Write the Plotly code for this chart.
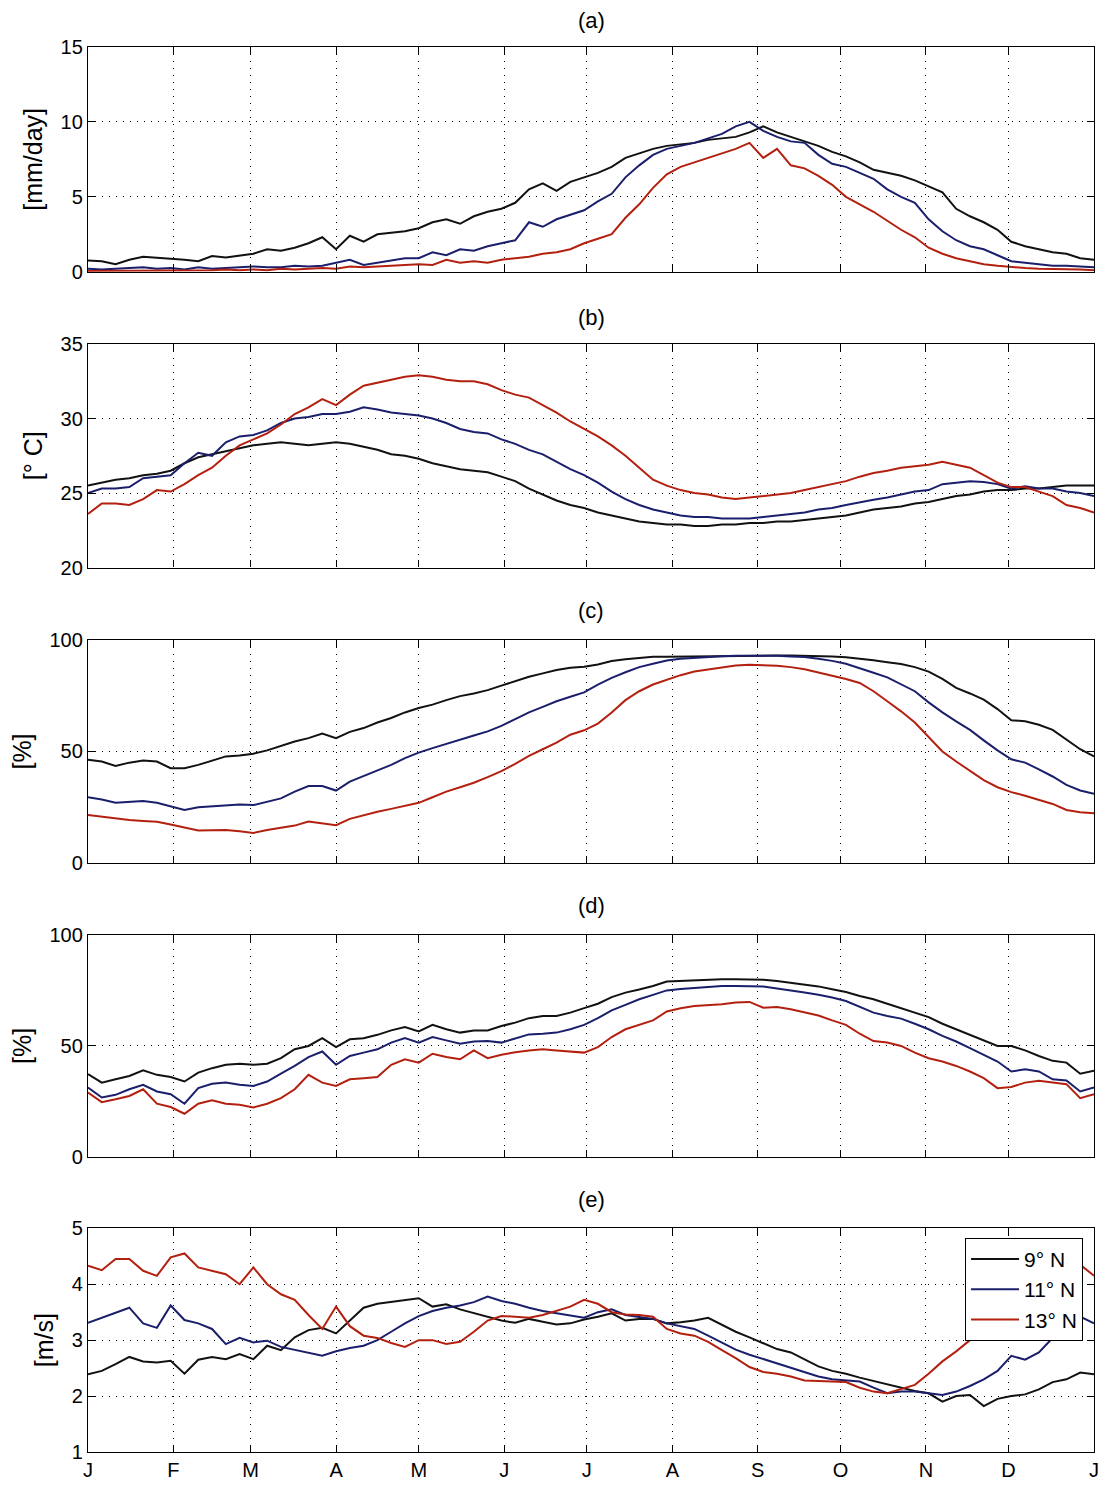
import plotly.graph_objects as go

# ---------------- data (5-day steps) ----------------
days = list(range(0, 366, 5))
month_ticks = [0, 31, 59, 90, 120, 151, 181, 212, 243, 273, 304, 334, 365]
month_labels = ["J", "F", "M", "A", "M", "J", "J", "A", "S", "O", "N", "D", "J"]
series_names = ["9° N", "11° N", "13° N"]
panel_titles = ["(a)", "(b)", "(c)", "(d)", "(e)"]
ylabels = ["[mm/day]", "[° C]", "[%]", "[%]", "[m/s]"]

# (a) precipitation [mm/day]
a_9 = [0.75, 0.7, 0.5, 0.8, 1.0, 0.95, 0.9, 0.8, 0.7, 1.05,
       0.95, 1.1, 1.2, 1.5, 1.4, 1.6, 1.9, 2.3, 1.5, 2.4,
       2.0, 2.5, 2.6, 2.7, 2.9, 3.3, 3.5, 3.2, 3.7, 4.0,
       4.2, 4.6, 5.5, 5.9, 5.4, 6.0, 6.3, 6.6, 7.0, 7.6,
       7.9, 8.2, 8.4, 8.5, 8.6, 8.8, 8.9, 9.0, 9.3, 9.7,
       9.3, 9.0, 8.7, 8.4, 8.0, 7.7, 7.3, 6.8, 6.6, 6.4,
       6.1, 5.7, 5.3, 4.2, 3.7, 3.3, 2.8, 2.0, 1.7, 1.5,
       1.3, 1.2, 0.9, 0.8]
a_11 = [0.2, 0.15, 0.2, 0.25, 0.3, 0.2, 0.25, 0.15, 0.3, 0.2,
        0.25, 0.3, 0.35, 0.3, 0.3, 0.4, 0.35, 0.4, 0.6, 0.8,
        0.45, 0.6, 0.8, 0.9, 0.9, 1.3, 1.1, 1.5, 1.4, 1.7,
        1.9, 2.1, 3.3, 3.0, 3.5, 3.8, 4.1, 4.7, 5.2, 6.3,
        7.1, 7.8, 8.2, 8.4, 8.6, 8.9, 9.2, 9.7, 10.0, 9.4,
        9.0, 8.7, 8.6, 7.8, 7.2, 7.0, 6.6, 6.2, 5.5, 5.0,
        4.6, 3.5, 2.7, 2.1, 1.7, 1.5, 1.1, 0.7, 0.6, 0.5,
        0.4, 0.4, 0.35, 0.3]
a_13 = [0.05, 0.05, 0.1, 0.05, 0.1, 0.05, 0.1, 0.05, 0.1, 0.1,
        0.15, 0.1, 0.15, 0.1, 0.2, 0.15, 0.2, 0.25, 0.2, 0.35,
        0.3, 0.35, 0.4, 0.45, 0.5, 0.45, 0.8, 0.6, 0.7, 0.6,
        0.8, 0.9, 1.0, 1.2, 1.3, 1.5, 1.9, 2.2, 2.5, 3.6,
        4.5, 5.6, 6.5, 7.0, 7.3, 7.6, 7.9, 8.2, 8.6, 7.6,
        8.2, 7.1, 6.9, 6.4, 5.8, 5.0, 4.5, 4.0, 3.4, 2.8,
        2.3, 1.6, 1.2, 0.9, 0.7, 0.5, 0.4, 0.3, 0.25, 0.2,
        0.2, 0.15, 0.15, 0.1]

# (b) temperature [deg C]
b_9 = [25.5, 25.7, 25.9, 26.0, 26.2, 26.3, 26.5, 27.0, 27.4, 27.6,
       27.8, 28.0, 28.2, 28.3, 28.4, 28.3, 28.2, 28.3, 28.4, 28.3,
       28.1, 27.9, 27.6, 27.5, 27.3, 27.0, 26.8, 26.6, 26.5, 26.4,
       26.1, 25.8, 25.3, 24.9, 24.5, 24.2, 24.0, 23.7, 23.5, 23.3,
       23.1, 23.0, 22.9, 22.9, 22.8, 22.8, 22.9, 22.9, 23.0, 23.0,
       23.1, 23.1, 23.2, 23.3, 23.4, 23.5, 23.7, 23.9, 24.0, 24.1,
       24.3, 24.4, 24.6, 24.8, 24.9, 25.1, 25.2, 25.2, 25.3, 25.3,
       25.4, 25.5, 25.5, 25.5]
b_11 = [25.0, 25.3, 25.3, 25.4, 26.0, 26.1, 26.2, 27.0, 27.7, 27.5,
        28.4, 28.8, 28.9, 29.2, 29.7, 30.0, 30.1, 30.3, 30.3, 30.45,
        30.75, 30.6, 30.4, 30.3, 30.2, 30.0, 29.7, 29.3, 29.1, 29.0,
        28.6, 28.3, 27.9, 27.6, 27.1, 26.6, 26.2, 25.7, 25.1, 24.6,
        24.2, 23.9, 23.7, 23.5, 23.4, 23.4, 23.3, 23.3, 23.3, 23.4,
        23.5, 23.6, 23.7, 23.9, 24.0, 24.2, 24.4, 24.55, 24.7, 24.9,
        25.1, 25.2, 25.6, 25.7, 25.8, 25.75, 25.6, 25.3, 25.45, 25.3,
        25.3, 25.1, 25.0, 24.8]
b_13 = [23.6, 24.3, 24.3, 24.2, 24.6, 25.2, 25.1, 25.6, 26.2, 26.7,
        27.5, 28.2, 28.6, 29.0, 29.6, 30.3, 30.75, 31.3, 30.9, 31.6,
        32.2, 32.4, 32.6, 32.8, 32.9, 32.8, 32.6, 32.5, 32.5, 32.3,
        31.9, 31.6, 31.4, 30.9, 30.4, 29.8, 29.3, 28.8, 28.2, 27.5,
        26.7, 25.9, 25.5, 25.2, 25.0, 24.9, 24.7, 24.6, 24.7, 24.8,
        24.9, 25.0, 25.2, 25.4, 25.6, 25.8, 26.1, 26.35, 26.5, 26.7,
        26.8, 26.9, 27.1, 26.9, 26.7, 26.2, 25.7, 25.4, 25.4, 25.1,
        24.8, 24.2, 24.0, 23.7]

# (c) relative humidity [%]
c_9 = [46.3, 45.5, 43.5, 45.0, 46.0, 45.5, 42.5, 42.5, 44.0, 46.0,
       47.8, 48.2, 49.0, 50.5, 52.5, 54.5, 56.0, 58.0, 56.0, 58.8,
       60.5, 63.0, 65.0, 67.5, 69.5, 71.0, 73.0, 74.8, 76.0, 77.5,
       79.5, 81.5, 83.5, 85.0, 86.5, 87.5, 88.0, 89.0, 90.5, 91.3,
       92.0, 92.4, 92.5, 92.6, 92.7, 92.8, 92.8, 92.9, 93.0, 93.0,
       93.0, 93.0, 92.9, 92.8, 92.6, 92.2, 91.6, 90.9, 90.0, 89.2,
       87.8, 85.8, 82.5, 78.5, 76.0, 73.2, 69.0, 64.0, 63.5, 62.0,
       59.7, 55.5, 51.0, 47.8]
c_11 = [29.5, 28.5, 27.0, 27.5, 27.8, 27.0, 25.5, 23.8, 25.0, 25.5,
        26.0, 26.2, 26.0, 27.5, 29.0, 32.0, 34.5, 34.5, 32.5, 36.5,
        39.0, 41.5, 44.0, 47.0, 49.5, 51.5, 53.5, 55.5, 57.2, 59.0,
        61.5, 64.5, 67.5, 70.0, 72.5, 74.5, 76.5, 80.0, 83.0, 85.5,
        87.8, 89.3, 90.8, 91.5, 92.0, 92.4, 92.7, 92.9, 93.0, 93.0,
        92.9, 92.6, 92.3, 91.5, 90.6, 89.3, 87.4, 85.3, 83.2, 80.2,
        77.0, 72.0, 67.5, 63.5, 59.7, 55.0, 50.5, 46.5, 45.0, 42.0,
        38.8, 35.0, 32.5, 31.0]
c_13 = [21.6, 20.8, 19.8, 19.3, 18.9, 18.5, 17.3, 15.8, 14.6, 14.7,
        14.8, 14.3, 13.5, 14.8, 15.8, 16.8, 18.6, 17.8, 17.0, 19.8,
        21.5, 23.0, 24.3, 25.8, 27.0, 29.5, 32.0, 34.0, 36.0, 38.5,
        41.2, 44.5, 48.0, 51.0, 54.0, 57.5, 59.5, 62.5, 67.5, 73.0,
        77.0, 80.0, 82.2, 84.2, 85.8, 86.8, 87.8, 88.5, 88.9, 88.8,
        88.4, 87.8, 86.8, 85.4, 84.0, 82.5, 80.7, 77.0, 72.5, 68.0,
        63.0, 56.5, 50.0, 45.5, 41.5, 37.2, 34.0, 31.8, 30.2, 28.3,
        26.5, 23.8, 22.8, 22.3]

# (d) [%]
d_9 = [37.3, 33.5, 35.0, 36.5, 39.0, 37.0, 36.0, 34.0, 38.0, 40.0,
       41.5, 42.0, 41.5, 42.0, 44.5, 48.5, 50.0, 53.5, 49.5, 53.0,
       53.5, 55.0, 57.0, 58.5, 56.5, 59.5, 57.5, 56.0, 57.0, 57.0,
       59.0, 60.5, 62.5, 63.5, 63.5, 65.0, 67.0, 69.0, 72.0, 74.0,
       75.4, 77.0, 79.0, 79.3, 79.5, 79.7, 80.0, 80.0, 80.0, 79.8,
       79.2, 78.5, 77.5, 76.8, 75.5, 74.3, 72.5, 71.0, 69.0, 67.0,
       65.0, 63.0, 60.0, 57.5, 55.0, 52.5, 50.0, 50.0, 48.0, 45.5,
       43.3, 42.5, 37.5, 38.8]
d_11 = [31.3, 26.8, 28.0, 30.5, 32.5, 29.5, 28.3, 24.0, 31.0, 33.0,
        33.5, 32.5, 32.0, 34.0, 37.5, 41.0, 45.0, 47.5, 41.5, 45.5,
        47.0, 48.5, 51.5, 53.5, 51.5, 54.0, 52.5, 51.0, 52.0, 52.2,
        51.5, 53.5, 55.2, 55.5, 56.0, 57.5, 59.5, 62.5, 66.0, 68.5,
        71.0, 73.0, 75.0, 75.6, 76.0, 76.5, 77.0, 77.0, 77.0, 76.8,
        75.8, 75.0, 74.0, 73.0, 71.8, 70.2, 67.5, 65.0, 63.5, 62.3,
        60.0, 57.5, 54.5, 52.0, 49.0, 46.0, 43.0, 38.5, 39.5, 38.5,
        35.0, 34.5, 29.5, 31.3]
d_13 = [29.0, 24.7, 26.0, 27.5, 30.5, 24.0, 22.5, 19.5, 24.0, 25.5,
        24.0, 23.5, 22.3, 24.0, 26.5, 30.5, 37.0, 33.5, 32.0, 35.0,
        35.5, 36.0, 41.5, 44.0, 42.5, 46.5, 45.0, 44.0, 48.0, 44.5,
        46.0, 47.2, 48.0, 48.5, 48.0, 47.5, 47.0, 49.5, 54.0, 57.5,
        59.5, 61.5, 65.5, 67.0, 68.0, 68.3, 68.8, 69.5, 69.8, 67.2,
        67.5, 66.5, 65.0, 63.7, 61.5, 59.5, 55.5, 52.2, 51.5, 50.0,
        47.0, 44.5, 43.0, 41.0, 38.5, 35.5, 31.0, 31.5, 33.5, 34.3,
        33.5, 32.8, 26.5, 28.3]

# (e) wind speed [m/s]
e_9 = [2.39, 2.45, 2.57, 2.7, 2.62, 2.6, 2.63, 2.4, 2.65, 2.7,
       2.66, 2.75, 2.66, 2.9, 2.82, 3.05, 3.18, 3.22, 3.12, 3.35,
       3.58, 3.65, 3.68, 3.72, 3.75, 3.6, 3.64, 3.55, 3.48, 3.42,
       3.35, 3.31, 3.38, 3.33, 3.28, 3.3, 3.37, 3.42, 3.48, 3.35,
       3.38, 3.38, 3.3, 3.32, 3.35, 3.4, 3.28, 3.15, 3.05, 2.95,
       2.84, 2.78, 2.65, 2.53, 2.45, 2.4, 2.33, 2.27, 2.2, 2.15,
       2.09, 2.05, 1.9, 2.0, 2.02, 1.82, 1.95, 2.0, 2.03, 2.12,
       2.25, 2.3, 2.42, 2.39]
e_11 = [3.31, 3.4, 3.5, 3.58, 3.3, 3.22, 3.62, 3.36, 3.3, 3.2,
        2.93, 3.04, 2.96, 2.99, 2.88, 2.83, 2.78, 2.72, 2.8, 2.86,
        2.9, 3.0, 3.15, 3.3, 3.43, 3.52, 3.58, 3.62, 3.68, 3.78,
        3.7, 3.65, 3.58, 3.52, 3.48, 3.44, 3.4, 3.5, 3.55, 3.45,
        3.42, 3.38, 3.3, 3.25, 3.2, 3.08, 2.95, 2.83, 2.74, 2.66,
        2.58, 2.5, 2.42, 2.35, 2.3, 2.28, 2.26, 2.15, 2.05, 2.08,
        2.08, 2.05, 2.02, 2.08, 2.18, 2.3, 2.45, 2.72, 2.65, 2.78,
        3.05, 3.3, 3.42, 3.3]
e_13 = [4.33, 4.25, 4.45, 4.45, 4.24, 4.15, 4.48, 4.55, 4.3, 4.24,
        4.18, 4.0, 4.3, 4.0, 3.82, 3.72, 3.45, 3.2, 3.6, 3.25,
        3.08, 3.04, 2.95, 2.88, 3.0, 3.0, 2.93, 2.97, 3.15, 3.35,
        3.43, 3.42, 3.4, 3.45, 3.52, 3.6, 3.72, 3.65, 3.5, 3.46,
        3.45, 3.42, 3.2, 3.12, 3.08, 2.97, 2.82, 2.68, 2.52, 2.43,
        2.4, 2.35, 2.28, 2.27, 2.27, 2.25, 2.15, 2.08, 2.05, 2.12,
        2.2, 2.4, 2.62, 2.8, 3.0, 3.15, 3.3, 3.5, 3.7, 3.9,
        4.05, 4.2, 4.35, 4.15]

y_ranges = [[0, 15], [20, 35], [0, 100], [0, 100], [1, 5]]
y_ticks = [[0, 5, 10, 15], [20, 25, 30, 35], [0, 50, 100], [0, 50, 100], [1, 2, 3, 4, 5]]

# ---------------- figure ----------------
W, H = 1105, 1487
ML, MR, MT, MB = 88, 6, 47, 30
colors = ["#111111", "#1b1f6b", "#b3200f"]
FONT = "Liberation Sans, Arial, Helvetica, sans-serif"

panels = [(a_9, a_11, a_13), (b_9, b_11, b_13), (c_9, c_11, c_13),
          (d_9, d_11, d_13), (e_9, e_11, e_13)]

# panel pixel extents (top, bottom) and title centres
panel_px = [(47, 272.5), (345, 569.5), (642, 866), (938, 1161), (1232.5, 1457)]
title_px = [20, 318, 613, 909, 1204]


def py(p):
    return (H - MB - p) / (H - MB - MT)


fig = go.Figure()
for i, trio in enumerate(panels, start=1):
    xa = "x" if i == 1 else f"x{i}"
    ya = "y" if i == 1 else f"y{i}"
    for name, ys, col in zip(series_names, trio, colors):
        fig.add_trace(go.Scatter(
            x=days, y=ys, mode="lines", name=name,
            line=dict(color=col, width=2),
            showlegend=(i == 5), xaxis=xa, yaxis=ya,
        ))

layout = dict(
    width=W, height=H,
    margin=dict(l=ML, r=MR, t=MT, b=MB),
    paper_bgcolor="white", plot_bgcolor="white",
    font=dict(family=FONT, size=20, color="black"),
    legend=dict(
        x=(1088 - ML) / (W - ML - MR), xanchor="right",
        y=py(1242), yanchor="top",
        bgcolor="white", bordercolor="black", borderwidth=1,
        font=dict(size=21, family=FONT, color="black"),
        tracegroupgap=0, itemwidth=48,
    ),
    annotations=[],
)

for i in range(1, 6):
    top, bot = panel_px[i - 1]
    xkey = "xaxis" if i == 1 else f"xaxis{i}"
    ykey = "yaxis" if i == 1 else f"yaxis{i}"
    yanchor = "y" if i == 1 else f"y{i}"
    xanchor = "x" if i == 1 else f"x{i}"
    layout[xkey] = dict(
        domain=[0, 1], anchor=yanchor, range=[0, 365],
        tickmode="array", tickvals=month_ticks, ticktext=month_labels,
        showticklabels=(i == 5), ticks="inside", ticklen=7, tickwidth=1,
        tickcolor="black", showline=True, linecolor="black", linewidth=1.3,
        mirror="ticks", showgrid=True, gridcolor="black", gridwidth=1,
        griddash="1px,6px", zeroline=False,
        tickfont=dict(size=20, family=FONT, color="black"),
    )
    layout[ykey] = dict(
        domain=[py(bot), py(top)], anchor=xanchor, range=y_ranges[i - 1],
        tickmode="array", tickvals=y_ticks[i - 1],
        ticks="inside", ticklen=7, tickwidth=1, tickcolor="black",
        showline=True, linecolor="black", linewidth=1.3, mirror="ticks",
        showgrid=True, gridcolor="black", gridwidth=1, griddash="1px,6px",
        zeroline=False,
        tickfont=dict(size=20, family=FONT, color="black"),
        title=dict(text=ylabels[i - 1], standoff=10,
                   font=dict(size=25, family=FONT, color="black")),
    )
    layout["annotations"].append(dict(
        text=panel_titles[i - 1], xref="paper", yref="paper",
        x=0.5, y=py(title_px[i - 1]), xanchor="center", yanchor="middle",
        showarrow=False, font=dict(size=22, family=FONT, color="black"),
    ))

fig.update_layout(**layout)
fig.write_html("out.html")
